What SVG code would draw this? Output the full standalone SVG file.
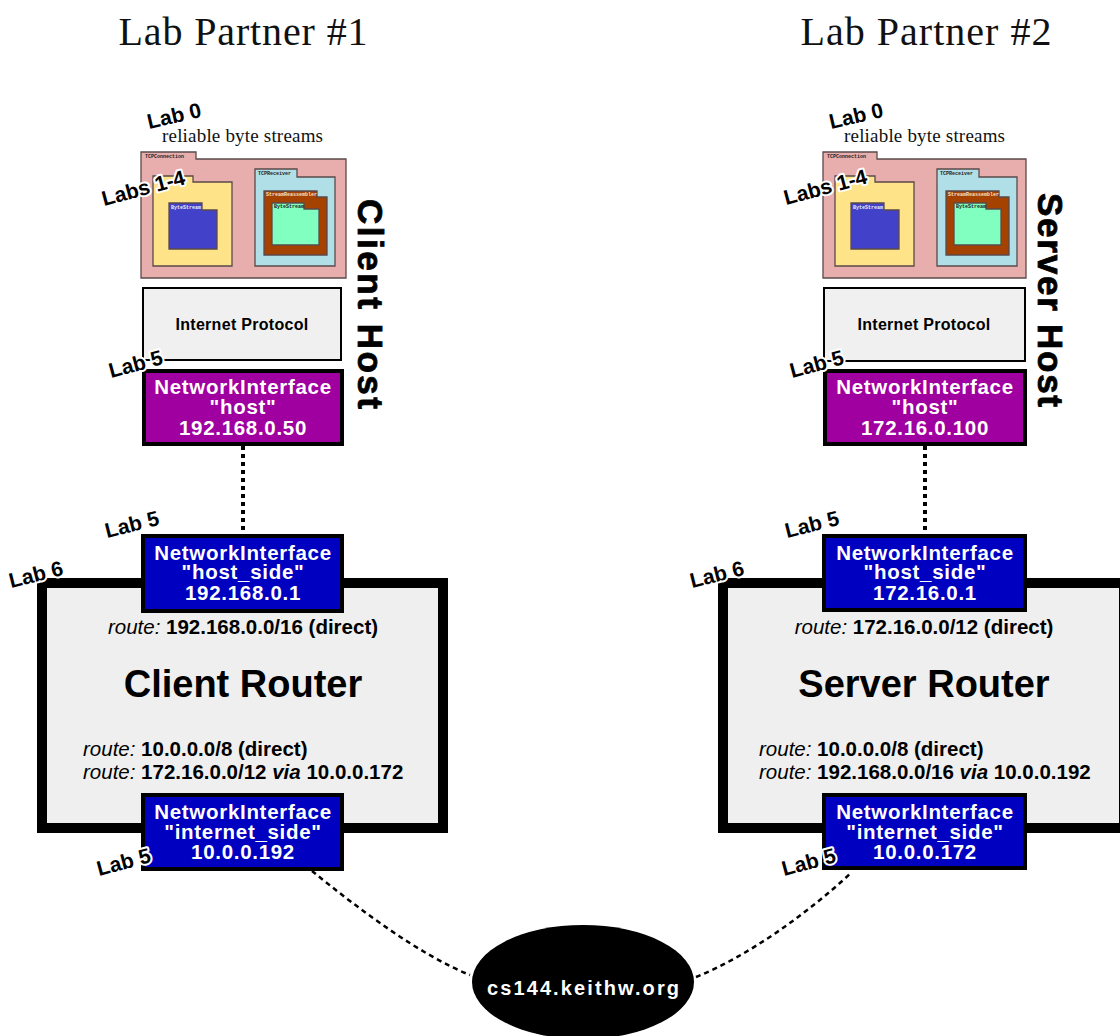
<svg xmlns="http://www.w3.org/2000/svg" width="1120" height="1036" viewBox="0 0 1120 1036">
<style>
.title{font-family:"Liberation Serif","Times New Roman",serif;font-size:40px;fill:#111;text-anchor:middle}
.rbs{font-family:"Liberation Serif","Times New Roman",serif;font-size:19px;fill:#111}
.lab{font-family:"Liberation Sans",Arial,sans-serif;font-weight:700;font-size:21px;fill:#000;stroke:#fff;stroke-width:4;stroke-linejoin:round;paint-order:stroke}
.tab{font-family:"Liberation Mono","DejaVu Sans Mono",monospace;font-weight:700;font-size:5px}
.fold{stroke:#5a4a4a;stroke-width:1.3}
.ip{fill:#f0f0f0;stroke:#000;stroke-width:2}
.ipt{font-family:"Liberation Sans",Arial,sans-serif;font-weight:700;font-size:16px;fill:#000;text-anchor:middle;letter-spacing:0.3px}
.nih{fill:#a000a0;stroke:#000;stroke-width:4}
.nib{fill:#0000c0;stroke:#000;stroke-width:4}
.nit{font-family:"Liberation Sans",Arial,sans-serif;font-weight:700;font-size:20.5px;fill:#fff;text-anchor:middle;letter-spacing:0.7px}
.router{fill:#efefef;stroke:#000;stroke-width:10}
.rt{font-family:"Liberation Sans",Arial,sans-serif;font-weight:700;font-size:20.5px;fill:#000}
.it{font-style:italic;font-weight:400}
.bi{font-style:italic;font-weight:700}
.rname{font-family:"Liberation Sans",Arial,sans-serif;font-weight:700;font-size:38px;fill:#000;text-anchor:middle}
.vert{font-family:"Liberation Sans",Arial,sans-serif;font-weight:700;font-size:35px;fill:#000;text-anchor:middle;stroke:#000;stroke-width:0.8}
.dot{fill:none;stroke:#000;stroke-width:4;stroke-dasharray:4 4}
.dash{fill:none;stroke:#000;stroke-width:2.5;stroke-dasharray:5 4}
</style>

<!-- Lab Partner #1 side -->
<g id="partner1">
  <text class="title" x="243" y="45" textLength="249">Lab Partner #1</text>

  <g id="client-tcp">
    <text class="rbs" x="162" y="142" textLength="161">reliable byte streams</text>
    <path class="fold" fill="#e8aeae" d="M141,152 H196 V159 H346 V278 H141 Z"/>
    <text class="tab" x="145" y="157.5" fill="#222">TCPConnection</text>
    <path class="fold" fill="#fee388" d="M153,176 H193 V182 H232 V266 H153 Z"/>
    <path class="fold" fill="#4141c9" d="M169,203 H202 V210 H217 V249 H169 Z"/>
    <text class="tab" x="171" y="208.5" fill="#eee">ByteStream</text>
    <path class="fold" fill="#b0dfe8" d="M255,169 H297 V177 H335 V266 H255 Z"/>
    <text class="tab" x="258" y="175" fill="#222">TCPReceiver</text>
    <path class="fold" fill="#a64200" d="M264,191 H317 V197 H327 V255 H264 Z"/>
    <text class="tab" x="266" y="196" fill="#f3e0d0">StreamReassembler</text>
    <path class="fold" fill="#80ffc0" d="M272,203 H304 V209 H319 V245 H272 Z"/>
    <text class="tab" x="274" y="208" fill="#222">ByteStream</text>
  </g>

  <g id="client-ip">
    <rect class="ip" x="143" y="288" width="198" height="72"/>
    <text class="ipt" x="242" y="330">Internet Protocol</text>
  </g>

  <g id="client-ni-host">
    <rect class="nih" x="144" y="371" width="198" height="73"/>
    <text class="nit" x="243" y="394">NetworkInterface<tspan x="243" dy="20">"host"</tspan><tspan x="243" dy="21">192.168.0.50</tspan></text>
  </g>

  <text class="vert" transform="translate(358,304) rotate(90)" textLength="210">Client Host</text>

  <g id="client-router">
    <rect class="router" x="42" y="583" width="401" height="245"/>
    <text class="rt" x="243" y="634" text-anchor="middle"><tspan class="it">route:</tspan> 192.168.0.0/16 (direct)</text>
    <text class="rname" x="243" y="697">Client Router</text>
    <text class="rt" x="83" y="756"><tspan class="it">route:</tspan> 10.0.0.0/8 (direct)<tspan x="83" dy="23" class="it">route:</tspan> 172.16.0.0/12 <tspan class="bi">via</tspan> 10.0.0.172</text>
  </g>

  <g id="client-ni-hostside">
    <rect class="nib" x="143" y="536" width="199" height="75"/>
    <text class="nit" x="243" y="560">NetworkInterface<tspan x="243" dy="19">"host_side"</tspan><tspan x="243" dy="21">192.168.0.1</tspan></text>
  </g>

  <g id="client-ni-internetside">
    <rect class="nib" x="143" y="795" width="199" height="74"/>
    <text class="nit" x="243" y="819">NetworkInterface<tspan x="243" dy="20">"internet_side"</tspan><tspan x="243" dy="20">10.0.0.192</tspan></text>
  </g>

  <g id="client-labels">
    <text class="lab" transform="translate(149,129) rotate(-13)">Lab 0</text>
    <text class="lab" font-size="22" transform="translate(104,206) rotate(-15)">Labs 1-4</text>
    <text class="lab" transform="translate(111,378) rotate(-15)">Lab 5</text>
    <text class="lab" transform="translate(107,538) rotate(-14)">Lab 5</text>
    <text class="lab" transform="translate(11,588) rotate(-14)">Lab 6</text>
    <text class="lab" transform="translate(99,876) rotate(-15)">Lab 5</text>
  </g>
</g>

<!-- Lab Partner #2 side -->
<g id="partner2">
  <text class="title" x="926" y="45" textLength="251">Lab Partner #2</text>

  <g id="server-tcp" transform="translate(682,0)">
    <text class="rbs" x="162" y="142" textLength="161">reliable byte streams</text>
    <path class="fold" fill="#e8aeae" d="M141,152 H195 V159 H344 V278 H141 Z"/>
    <text class="tab" x="145" y="157.5" fill="#222">TCPConnection</text>
    <path class="fold" fill="#fee388" d="M153,176 H193 V182 H232 V266 H153 Z"/>
    <path class="fold" fill="#4141c9" d="M169,203 H202 V210 H217 V249 H169 Z"/>
    <text class="tab" x="171" y="208.5" fill="#eee">ByteStream</text>
    <path class="fold" fill="#b0dfe8" d="M255,169 H297 V177 H335 V266 H255 Z"/>
    <text class="tab" x="258" y="175" fill="#222">TCPReceiver</text>
    <path class="fold" fill="#a64200" d="M264,191 H317 V197 H327 V255 H264 Z"/>
    <text class="tab" x="266" y="196" fill="#f3e0d0">StreamReassembler</text>
    <path class="fold" fill="#80ffc0" d="M272,203 H304 V209 H319 V245 H272 Z"/>
    <text class="tab" x="274" y="208" fill="#222">ByteStream</text>
  </g>

  <g id="server-ip">
    <rect class="ip" x="824" y="288" width="201" height="73"/>
    <text class="ipt" x="924" y="330">Internet Protocol</text>
  </g>

  <g id="server-ni-host">
    <rect class="nih" x="825" y="371" width="200" height="73"/>
    <text class="nit" x="925" y="394">NetworkInterface<tspan x="925" dy="20">"host"</tspan><tspan x="925" dy="21">172.16.0.100</tspan></text>
  </g>

  <text class="vert" transform="translate(1038,300) rotate(90)" textLength="214">Server Host</text>

  <g id="server-router">
    <rect class="router" x="723" y="583" width="401" height="245"/>
    <text class="rt" x="924" y="634" text-anchor="middle"><tspan class="it">route:</tspan> 172.16.0.0/12 (direct)</text>
    <text class="rname" x="924" y="697">Server Router</text>
    <text class="rt" x="759" y="756"><tspan class="it">route:</tspan> 10.0.0.0/8 (direct)<tspan x="759" dy="23" class="it">route:</tspan> 192.168.0.0/16 <tspan class="bi">via</tspan> 10.0.0.192</text>
  </g>

  <g id="server-ni-hostside">
    <rect class="nib" x="824" y="536" width="201" height="74"/>
    <text class="nit" x="925" y="560">NetworkInterface<tspan x="925" dy="19">"host_side"</tspan><tspan x="925" dy="21">172.16.0.1</tspan></text>
  </g>

  <g id="server-ni-internetside">
    <rect class="nib" x="824" y="795" width="201" height="73"/>
    <text class="nit" x="925" y="819">NetworkInterface<tspan x="925" dy="20">"internet_side"</tspan><tspan x="925" dy="20">10.0.0.172</tspan></text>
  </g>

  <g id="server-labels">
    <text class="lab" transform="translate(831,129) rotate(-13)">Lab 0</text>
    <text class="lab" font-size="22" transform="translate(786,205) rotate(-15)">Labs 1-4</text>
    <text class="lab" transform="translate(792,378) rotate(-15)">Lab 5</text>
    <text class="lab" transform="translate(787,538) rotate(-14)">Lab 5</text>
    <text class="lab" transform="translate(692,588) rotate(-14)">Lab 6</text>
    <text class="lab" transform="translate(784,876) rotate(-15)">Lab 5</text>
  </g>
</g>

<!-- Internet -->
<g id="internet">
  <ellipse cx="583" cy="982" rx="111" ry="57" fill="#000"/>
  <text x="583" y="995" font-family="'Liberation Sans',Arial,sans-serif" font-weight="700" font-size="20" fill="#fff" text-anchor="middle" textLength="192">cs144.keithw.org</text>
</g>

<!-- Connectors -->
<g id="connectors">
  <line class="dot" x1="243" y1="446" x2="243" y2="534"/>
  <line class="dot" x1="925" y1="446" x2="925" y2="534"/>
  <path class="dash" d="M312,871 C360,910 420,955 470,975"/>
  <path class="dash" d="M696,977 C746,957 806,915 852,872"/>
</g>
</svg>
